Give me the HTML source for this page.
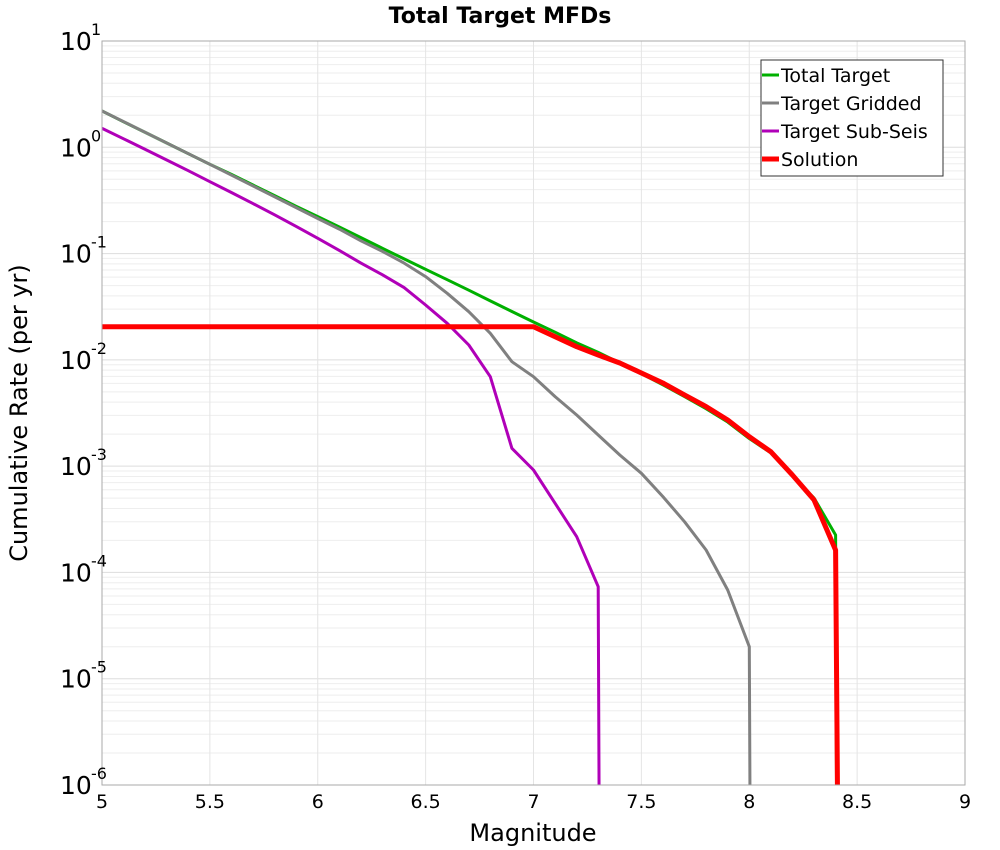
<!DOCTYPE html>
<html><head><meta charset="utf-8">
<style>
html,body{margin:0;padding:0;background:#fff;width:1000px;height:850px;overflow:hidden;}
svg{display:block;font-family:"DejaVu Sans","Liberation Sans",sans-serif;}
</style></head>
<body>
<svg id="chart" width="1000" height="850" viewBox="0 0 1000 850">
<defs><clipPath id="plotclip"><rect x="102" y="41" width="863" height="744"/></clipPath></defs>
<text x="500" y="23" text-anchor="middle" font-size="22" font-weight="bold">Total Target MFDs</text>
<g id="grid"></g>
<g id="series" clip-path="url(#plotclip)"></g>
<rect x="102" y="41" width="863" height="744" fill="none" stroke="#aaa" stroke-width="1"/>
<g id="xticks"></g>
<g id="yticks"></g>
<text x="533" y="841" text-anchor="middle" font-size="24">Magnitude</text>
<text transform="translate(27,413) rotate(-90)" text-anchor="middle" font-size="24">Cumulative Rate (per yr)</text>
<g id="legend">
<rect x="761" y="60" width="182" height="116" fill="#fff" stroke="#333" stroke-width="1"/>
</g>
</svg>
<script>
// Data (log10 cumulative rate)
const xTicks = [5,5.5,6,6.5,7,7.5,8,8.5,9];
const xTickLabels = ["5","5.5","6","6.5","7","7.5","8","8.5","9"];
const yDecades = [1,0,-1,-2,-3,-4,-5,-6];
const yTickLabels = ["1","0","-1","-2","-3","-4","-5","-6"];

const totalM = [5,5.1,5.2,5.3,5.4,5.5,5.6,5.7,5.8,5.9,6,6.1,6.2,6.3,6.4,6.5,6.6,6.7,6.8,6.9,7,7.1,7.2,7.3,7.4,7.5,7.6,7.7,7.8,7.9,8,8.1,8.2,8.3,8.4,8.41];
const totalLog = [0.341,0.24,0.14,0.04,-0.06,-0.16,-0.255,-0.355,-0.455,-0.555,-0.652,-0.75,-0.85,-0.95,-1.05,-1.148,-1.246,-1.345,-1.445,-1.545,-1.644,-1.74,-1.84,-1.93,-2.03,-2.13,-2.235,-2.345,-2.46,-2.585,-2.74,-2.875,-3.09,-3.3,-3.648,-9];

const griddedM = [5,5.5,6,6.1,6.2,6.3,6.4,6.5,6.6,6.7,6.8,6.9,7,7.1,7.2,7.3,7.4,7.5,7.6,7.7,7.8,7.9,8,8.01];
const griddedLog = [0.341,-0.16,-0.67,-0.77,-0.88,-0.98,-1.09,-1.217,-1.374,-1.547,-1.75,-2.017,-2.158,-2.346,-2.519,-2.707,-2.895,-3.067,-3.287,-3.523,-3.789,-4.165,-4.699,-9];

const subSeisM = [5,5.1,5.2,5.3,5.4,5.5,5.6,5.7,5.8,5.9,6,6.1,6.2,6.3,6.4,6.5,6.6,6.7,6.8,6.9,7,7.1,7.2,7.3,7.31];
const subSeisLog = [0.179,0.08,-0.02,-0.12,-0.22,-0.324,-0.425,-0.53,-0.635,-0.744,-0.856,-0.97,-1.09,-1.2,-1.32,-1.484,-1.656,-1.86,-2.158,-2.832,-3.036,-3.35,-3.664,-4.134,-9];

const solutionM = [5,6,7,7.1,7.2,7.3,7.4,7.5,7.6,7.7,7.8,7.9,8,8.1,8.2,8.3,8.4,8.42];
const solutionLog = [-1.688,-1.688,-1.688,-1.782,-1.876,-1.954,-2.03,-2.124,-2.218,-2.33,-2.44,-2.566,-2.723,-2.864,-3.083,-3.318,-3.79,-9];

const seriesNames = ["Total Target","Target Gridded","Target Sub-Seis","Solution"];

// Axes
const X0=102,X1=965,Y0=41,Y1=785;
function xs(m){return X0+(m-5)/(9-5)*(X1-X0);}
function ys(l){return Y0+(1-l)/(7)*(Y1-Y0);}

const NS="http://www.w3.org/2000/svg";
function mk(tag,attrs,parent){const e=document.createElementNS(NS,tag);for(const k in attrs)e.setAttribute(k,attrs[k]);parent.appendChild(e);return e;}

const grid=document.getElementById('grid');
for(let d=0;d<7;d++){
  const base=yDecades[d+1];
  for(let k=2;k<=9;k++){
    const y=ys(base+Math.log10(k));
    const ln=mk('line',{x1:X0,x2:X1,y1:y,y2:y,stroke:'#eeeeee','stroke-width':1},grid);
    
    
  }
}
yDecades.forEach(d=>{
  const y=ys(d);
  const ln=mk('line',{x1:X0,x2:X1,y1:y,y2:y,stroke:'#dddddd','stroke-width':1},grid);
  
  
});
xTicks.forEach(m=>{
  const x=xs(m);
  const ln=mk('line',{x1:x,x2:x,y1:Y0,y2:Y1,stroke:'#e4e4e4','stroke-width':1},grid);
  
  
});

const xg=document.getElementById('xticks');
xTicks.forEach((m,i)=>{
  const t=mk('text',{x:xs(m),y:808,'text-anchor':'middle','font-size':19},xg);
  t.textContent=xTickLabels[i];
  
  
});
const yg=document.getElementById('yticks');
yDecades.forEach((d,i)=>{
  const y=ys(d);
  const t=mk('text',{x:60,y:y+9,'font-size':25},yg);
  t.textContent='10';
  
  
  const s=mk('text',{x:91,y:y-6,'font-size':16},yg);
  s.textContent=yTickLabels[i];
  
  
});

const sg=document.getElementById('series');
function drawLine(M,L,color,w,name){
  const pts=M.map((m,i)=>xs(m).toFixed(1)+','+ys(L[i]).toFixed(1)).join(' ');
  const p=mk('polyline',{points:pts,fill:'none',stroke:color,'stroke-width':w,'stroke-linejoin':'round'},sg);
  
  
}
drawLine(totalM,totalLog,'#00b000',3,'total-target-line');
drawLine(griddedM,griddedLog,'#808080',3,'target-gridded-line');
drawLine(subSeisM,subSeisLog,'#b000b8',3,'target-sub-seis-line');
drawLine(solutionM,solutionLog,'#ff0000',5,'solution-line');

const lg=document.getElementById('legend');
const lcols=['#00b000','#808080','#b000b8','#ff0000'];
const lw=[3,3,3,5];
seriesNames.forEach((n,i)=>{
  const y=75+i*28;
  const l=mk('line',{x1:762,x2:779,y1:y,y2:y,stroke:lcols[i],'stroke-width':lw[i]},lg);
  
  
  const t=mk('text',{x:781,y:y+7,'font-size':19},lg);
  t.textContent=n;
  
  
});
</script>
</body></html>
